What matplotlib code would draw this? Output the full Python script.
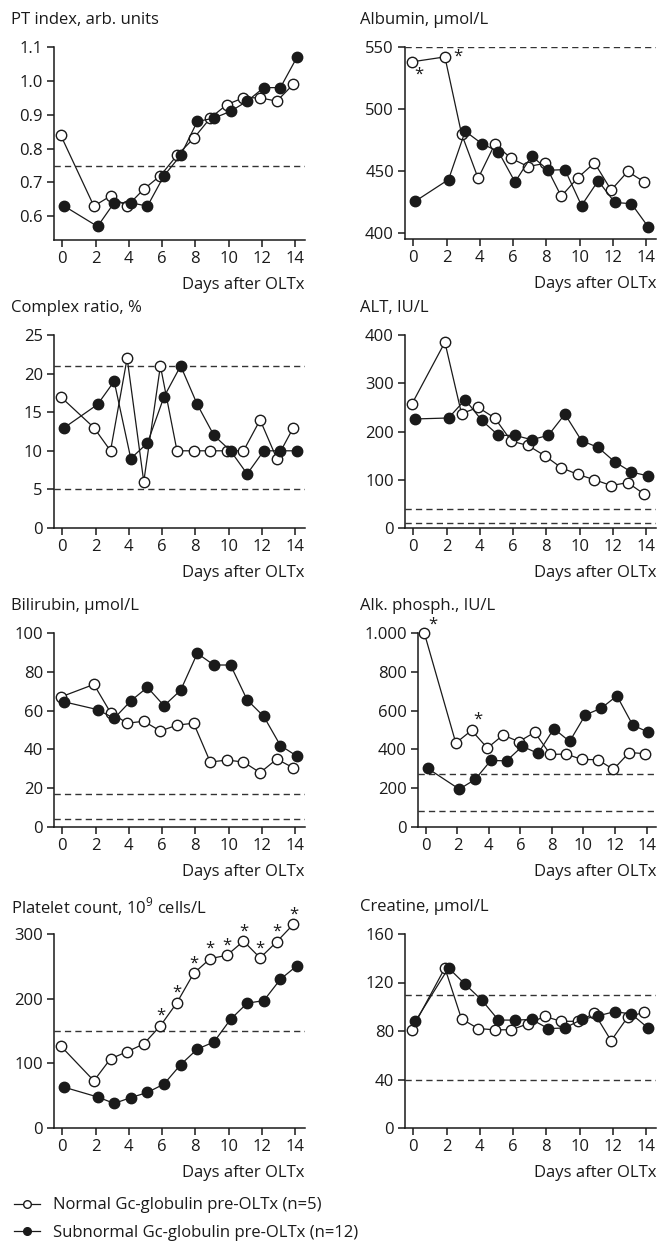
import matplotlib
matplotlib.use("Agg")
import matplotlib.pyplot as plt
from matplotlib.lines import Line2D

plt.rcParams["font.family"] = ["Open Sans", "DejaVu Sans"]
plt.rcParams["mathtext.fontset"] = "custom"
plt.rcParams["mathtext.rm"] = "Open Sans"
plt.rcParams["font.size"] = 12
plt.rcParams["text.color"] = "#1a1a1a"

days = [0, 2, 3, 4, 5, 6, 7, 8, 9, 10, 11, 12, 13, 14]
x_ticks = [0, 2, 4, 6, 8, 10, 12, 14]

pt_normal = [0.84, 0.63, 0.66, 0.63, 0.68, 0.72, 0.78, 0.83, 0.89, 0.93, 0.95, 0.95, 0.94, 0.99]
pt_subnormal = [0.63, 0.57, 0.64, 0.64, 0.63, 0.72, 0.78, 0.88, 0.89, 0.91, 0.94, 0.98, 0.98, 1.07]

alb_normal = [538, 542, 480, 444, 471.5, 460, 453.5, 456, 429.5, 444.5, 456.5, 434.5, 449.5, 441]
alb_subnormal = [425.5, 443, 482, 472, 465.5, 441, 462, 450.5, 451, 422, 442, 424.5, 423.5, 405]

cr_normal = [17, 13, 10, 22, 6, 21, 10, 10, 10, 10, 10, 14, 9, 13]
cr_subnormal = [13, 16, 19, 9, 11, 17, 21, 16, 12, 10, 7, 10, 10, 10]

alt_normal = [256, 385, 237, 250, 228, 180, 171, 150, 125, 111, 100, 88, 94, 70]
alt_subnormal = [226, 228, 266, 223, 192, 192, 183, 192, 236, 181, 167, 137, 116, 108]

bili_normal = [67, 73.5, 59, 53.5, 54.5, 49.5, 52.5, 53.5, 33.5, 34.5, 33.5, 28, 35, 30.5]
bili_subnormal = [64.5, 60.5, 56, 65, 72, 62.5, 70.5, 89.5, 83.5, 83.5, 65.5, 57, 42, 36.5]

alp_normal = [1000, 433, 498, 407, 474, 440, 488, 374, 376, 348, 347, 297, 384, 378]
alp_subnormal = [302, 195, 245, 343, 341, 416, 379, 507, 441, 578, 612, 676, 526, 488]

plt_normal = [127, 73, 107, 118, 130, 158, 194, 239, 262, 267, 289, 263, 288, 315]
plt_subnormal = [63, 48, 38, 47, 55, 68, 98, 122, 133, 168, 193, 197, 230, 251]

crea_normal = [81, 132, 90, 82, 81, 81, 86, 92, 88, 88, 94.5, 72, 91.5, 95.5]
crea_subnormal = [88, 132, 118.5, 105.5, 89, 89, 89.5, 82, 82.5, 89.5, 92.5, 96, 94, 82.5]

# asterisk marks (day, value)
alb_stars = [(0.36, 528), (2.68, 542)]
alp_stars = [(0.42, 1045), (3.28, 555)]
plt_star_days = [6, 7, 8, 9, 10, 11, 12, 13, 14]

W, H = 669, 1242
fig = plt.figure(figsize=(W / 100, H / 100), dpi=100)
ink = "#1a1a1a"


def box(left, top, right, bottom):
    return [left / W, 1 - bottom / H, (right - left) / W, (bottom - top) / H]


def panel(rect, title, normal, subnormal, ylim, yticks, ylabels, refs):
    left, top, right, bottom = rect
    ax = fig.add_axes(box(*rect))
    ax.set_xlim(-0.5, 14.6)
    ax.set_ylim(*ylim)
    for r in refs:
        ax.axhline(r, color="#333333", lw=1.0, ls=(0, (4.5, 3)), zorder=1)
    xo = [d - 0.1 for d in days]
    xf = [d + 0.12 for d in days]
    ax.plot(xo, normal, color=ink, lw=0.9, marker="o", ms=7.5, mfc="white",
            mec=ink, mew=1.0, clip_on=False, zorder=3)
    ax.plot(xf, subnormal, color=ink, lw=0.9, marker="o", ms=7.5, mfc=ink,
            mec=ink, mew=1.0, clip_on=False, zorder=4)
    ax.set_xticks(x_ticks)
    ax.set_yticks(yticks)
    ax.set_yticklabels(ylabels)
    for s in ["top", "right"]:
        ax.spines[s].set_visible(False)
    for s in ["left", "bottom"]:
        ax.spines[s].set_linewidth(1.1)
        ax.spines[s].set_color(ink)
    ax.tick_params(direction="out", length=5, width=1.1, color=ink,
                   labelsize=12, labelcolor=ink, pad=3)
    title_x = 11 if left < 200 else 360
    fig.text(title_x / W, 1 - (top - 27) / H, title, ha="left", va="center")
    fig.text(right / W, 1 - (bottom + 45) / H, "Days after OLTx",
             ha="right", va="center")
    return ax


ax1 = panel((54, 47, 305, 240), "PT index, arb. units", pt_normal, pt_subnormal,
            (0.53, 1.1), [0.6, 0.7, 0.8, 0.9, 1.0, 1.1],
            ["0.6", "0.7", "0.8", "0.9", "1.0", "1.1"], [0.75])
ax2 = panel((405, 47, 656, 239), "Albumin, µmol/L", alb_normal, alb_subnormal,
            (395, 550), [400, 450, 500, 550], ["400", "450", "500", "550"], [550])
ax3 = panel((54, 335, 305, 528), "Complex ratio, %", cr_normal, cr_subnormal,
            (0, 25), [0, 5, 10, 15, 20, 25], ["0", "5", "10", "15", "20", "25"], [21, 5])
ax4 = panel((405, 335, 656, 528), "ALT, IU/L", alt_normal, alt_subnormal,
            (0, 400), [0, 100, 200, 300, 400], ["0", "100", "200", "300", "400"], [40, 10])
ax5 = panel((54, 633, 305, 827), "Bilirubin, µmol/L", bili_normal, bili_subnormal,
            (0, 100), [0, 20, 40, 60, 80, 100], ["0", "20", "40", "60", "80", "100"], [17, 4])
ax6 = panel((418, 633, 656, 827), "Alk. phosph., IU/L", alp_normal, alp_subnormal,
            (0, 1000), [0, 200, 400, 600, 800, 1000],
            ["0", "200", "400", "600", "800", "1.000"], [275, 85])
ax7 = panel((54, 934, 305, 1128), "Platelet count, 10$^{\\mathregular{9}}$ cells/L",
            plt_normal, plt_subnormal, (0, 300), [0, 100, 200, 300],
            ["0", "100", "200", "300"], [150])
ax8 = panel((405, 934, 656, 1128), "Creatine, µmol/L", crea_normal, crea_subnormal,
            (0, 160), [0, 40, 80, 120, 160], ["0", "40", "80", "120", "160"], [110, 40])

for d, v in alb_stars:
    ax2.text(d, v, "*", ha="center", va="center", fontsize=12, clip_on=False)
for d, v in alp_stars:
    ax6.text(d, v, "*", ha="center", va="center", fontsize=12, clip_on=False)
for d in plt_star_days:
    v = plt_normal[days.index(d)]
    ax7.annotate("*", (d - 0.1, v), xytext=(0, 7), textcoords="offset points",
                 ha="center", va="center", fontsize=12, annotation_clip=False)

handles = [
    Line2D([], [], color=ink, lw=0.9, marker="o", ms=5.5, mfc="white", mec=ink, mew=1.0),
    Line2D([], [], color=ink, lw=0.9, marker="o", ms=5.5, mfc=ink, mec=ink, mew=1.0),
]
fig.legend(handles, ["Normal Gc-globulin pre-OLTx (n=5)",
                     "Subnormal Gc-globulin pre-OLTx (n=12)"],
           loc="upper left", bbox_to_anchor=(6 / W, 1 - 1189 / H), frameon=False,
           handlelength=1.55, handletextpad=0.75, labelspacing=0.7, borderpad=0,
           fontsize=12)

fig.savefig("out.png", dpi=100)
